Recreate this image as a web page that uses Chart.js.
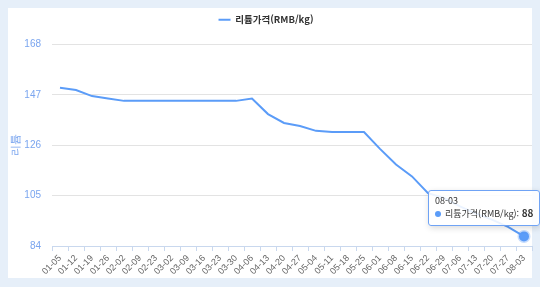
<!DOCTYPE html>
<html lang="ko">
<head>
  <meta charset="UTF-8">
  <title>리튬가격</title>
  <script src="https://cdn.jsdelivr.net/npm/chart.js"></script>
  <style>
    body {
      margin: 0;
      width: 540px;
      height: 287px;
      background: #e6eff9;
      font-family: 'Noto Sans CJK KR', 'Noto Sans', sans-serif;
      overflow: hidden;
    }

    .panel {
      position: absolute;
      left: 8px;
      top: 8px;
      width: 524px;
      height: 270px;
      background: #ffffff;
    }

    .wrap {
      position: absolute;
      left: 0;
      top: 0;
      width: 540px;
      height: 287px;
    }

    #tip {
      position: absolute;
      display: none;
      background: rgba(255, 255, 255, 0.88);
      border: 1px solid #6fa3f5;
      border-radius: 3px;
      box-shadow: 1px 2px 6px rgba(0, 0, 0, 0.15);
      padding: 4px 6px 5px 6px;
      font-size: 9px;
      line-height: 12px;
      color: #333;
      white-space: nowrap;
      pointer-events: none;
    }

    #tip b {
      font-size: 10px;
    }

    #tip .dot {
      display: inline-block;
      width: 6px;
      height: 6px;
      border-radius: 50%;
      background: #5b9cf8;
      margin-right: 4px;
      vertical-align: 0px;
    }
  </style>
</head>
<body>

  <div class="panel"></div>
  <div class="wrap">
    <canvas id="lithiumChart"></canvas>
    <div id="tip"></div>
  </div>

  <script>
    // weekly dates (02-16 is missing in the source)
    const dates = [
      '01-05', '01-12', '01-19', '01-26', '02-02', '02-09', '02-23', '03-02',
      '03-09', '03-16', '03-23', '03-30', '04-06', '04-13', '04-20', '04-27',
      '05-04', '05-11', '05-18', '05-25', '06-01', '06-08', '06-15', '06-22',
      '06-29', '07-06', '07-13', '07-20', '07-27', '08-03'
    ];

    // price values
    const prices = [
      150, 149, 146.5, 145.5, 144.5, 144.5, 144.5, 144.5,
      144.5, 144.5, 144.5, 144.5, 145.5, 139, 135.3, 134,
      132, 131.5, 131.5, 131.5, 124.5, 118, 113, 106,
      104, 100.5, 97.5, 95, 92, 88
    ];

    const yTicks = [84, 105, 126, 147, 168];

    const seriesName = '리튬가격(RMB/kg)';
    const LINE_COLOR = '#5b9cf8';
    const TICK_BLUE = '#7aa5ef';

    function externalTip(context) {
      const tip = document.getElementById('tip');
      const model = context.tooltip;
      if (model.opacity === 0) {
        tip.style.display = 'none';
        return;
      }
      const pt = model.dataPoints[0];
      const el = pt.element;
      tip.innerHTML = '<div>' + pt.label + '</div>' +
        '<div><span class="dot"></span>' + seriesName + ': <b>' + pt.formattedValue + '</b></div>';
      tip.style.display = 'block';
      tip.style.left = (el.x - 96) + 'px';
      tip.style.top = (el.y - 46) + 'px';
    }

    // extra room below the legend
    const legendGap = {
      id: 'legendGap',
      beforeInit(chart) {
        const fit = chart.legend.fit;
        chart.legend.fit = function () {
          fit.bind(chart.legend)();
          this.height += 10;
        };
      }
    };

    const ctx = document.getElementById('lithiumChart').getContext('2d');
    const chart = new Chart(ctx, {
      type: 'line',
      data: {
        labels: dates,
        datasets: [{
          label: seriesName,
          data: prices,
          borderColor: LINE_COLOR,
          backgroundColor: LINE_COLOR,
          borderWidth: 2,
          fill: false,
          tension: 0,
          pointRadius: 0,
          pointHoverRadius: 5,
          pointHoverBackgroundColor: LINE_COLOR,
          pointHoverBorderColor: 'rgba(91, 156, 248, 0.35)',
          pointHoverBorderWidth: 3
        }]
      },
      options: {
        responsive: true,
        maintainAspectRatio: false,
        animation: false,
        layout: { padding: { top: 6, right: 8, left: 0, bottom: 0 } },
        plugins: {
          legend: {
            position: 'top',
            labels: {
              boxWidth: 12,
              boxHeight: 2,
              padding: 9,
              color: '#333',
              font: { size: 9.5, weight: 'bold', family: "'Noto Sans CJK KR', sans-serif" },
              generateLabels: chart =>
                Chart.defaults.plugins.legend.labels.generateLabels(chart)
                  .map(item => Object.assign(item, { lineWidth: 0 }))
            }
          },
          tooltip: {
            enabled: false,
            mode: 'index',
            intersect: false,
            external: externalTip
          }
        },
        scales: {
          x: {
            offset: true,
            grid: {
              offset: true,
              drawOnChartArea: false,
              drawTicks: true,
              tickLength: 5,
              color: '#c9d8ee'
            },
            border: { color: '#c9d8ee' },
            ticks: {
              autoSkip: false,
              maxRotation: 45,
              minRotation: 45,
              padding: 2,
              color: '#666',
              font: { size: 9 }
            },
            afterFit: s => { s.height = 41; }
          },
          y: {
            min: 84,
            max: 168,
            afterBuildTicks: s => { s.ticks = yTicks.map(v => ({ value: v })); },
            grid: { color: '#e3e3e3', drawTicks: false },
            border: { display: false },
            ticks: {
              padding: 11,
              color: TICK_BLUE,
              font: { size: 10 }
            },
            title: {
              display: true,
              text: '리튬',
              color: TICK_BLUE,
              padding: { top: 9, bottom: 0 },
              font: { size: 11 }
            },
            afterFit: s => { s.width = 52; }
          }
        }
      },
      plugins: [legendGap]
    });

    const last = prices.length - 1;
    const el = chart.getDatasetMeta(0).data[last];
    chart.setActiveElements([{ datasetIndex: 0, index: last }]);
    chart.tooltip.setActiveElements([{ datasetIndex: 0, index: last }], { x: el.x, y: el.y });
    chart.update();
  </script>

</body>
</html>
